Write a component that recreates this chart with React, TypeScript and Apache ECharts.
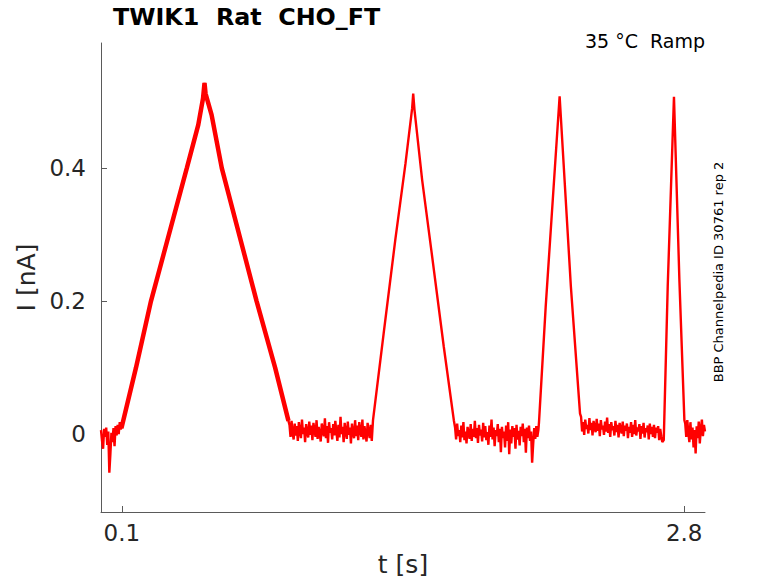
import React, { useEffect, useRef } from "react";
import * as echarts from "echarts";

// ---- data (t in s, I in nA) ----
const dt = 0.005;

// noisy baseline stretches, uniformly sampled (dt) from their start time
const base1Start = 0.0;
const base1 = [
  0.006, -0.010, -0.022, 0.008, -0.004, 0.010, -0.016, 0.004, -0.058, -0.030,
  0.002, -0.012, 0.009, -0.018, 0.012, -0.002, 0.014, 0.000, 0.018, 0.008,
];

const base2Start = 0.905;
const base2 = [
  0.014, -0.004, 0.020, 0.002, -0.008, 0.016, -0.002, 0.012, -0.010, 0.018,
  0.004, -0.006, 0.022, 0.000, 0.010, -0.012, 0.015, 0.003, -0.005, 0.019,
  -0.001, 0.013, -0.009, 0.017, 0.006, -0.004, 0.021, -0.007, 0.011, 0.001,
  -0.011, 0.016, 0.005, -0.003, 0.024, -0.006, 0.012, -0.013, 0.018, 0.002,
  0.009, -0.008, 0.015, -0.002, 0.020, 0.004, -0.010, 0.014, -0.005, 0.026,
  0.000, 0.011, -0.012, 0.017, 0.003, -0.007, 0.019, -0.001, 0.010, -0.014,
  0.016, 0.002, -0.006, 0.021, -0.003, 0.013, -0.009, 0.018, 0.005, -0.004,
  0.022, -0.008, 0.012, 0.000, -0.011, 0.017, 0.003, -0.006, 0.014, -0.010,
];

const base3Start = 1.70;
const base3 = [
  0.010, -0.008, 0.016, -0.003, 0.006, -0.012, 0.013, -0.005, 0.018, -0.009,
  0.004, -0.014, 0.011, 0.001, -0.007, 0.015, -0.010, 0.008, -0.004, 0.020,
  -0.006, 0.009, -0.013, 0.014, -0.002, 0.007, -0.011, 0.017, -0.005, 0.012,
  -0.009, 0.003, -0.016, 0.013, -0.004, 0.022, -0.008, 0.010, -0.018, 0.006,
  -0.003, 0.015, -0.012, 0.008, -0.027, 0.011, -0.006, 0.004, -0.020, 0.013,
  -0.010, 0.018, -0.030, 0.007, -0.014, 0.012, -0.004, 0.009, -0.022, 0.014,
  -0.008, 0.005, -0.017, 0.011, -0.003, 0.016, -0.012, 0.008, -0.028, 0.010,
  -0.006, 0.013, -0.010, 0.004, -0.043, -0.015, 0.009, -0.007, 0.012, -0.004,
  0.006,
];

const base4Start = 2.305;
const base4 = [
  0.026, 0.004, 0.018, -0.001, 0.022, 0.008, 0.014, 0.001, 0.024, 0.006,
  0.017, -0.002, 0.020, 0.009, 0.003, 0.023, 0.005, 0.016, -0.003, 0.021,
  0.007, 0.013, -0.001, 0.019, 0.004, 0.025, 0.002, 0.015, -0.004, 0.018,
  0.006, 0.012, -0.002, 0.020, 0.003, 0.014, -0.005, 0.017, 0.008, 0.001,
  0.019, -0.003, 0.013, 0.005, 0.016, -0.006, 0.011, 0.002, 0.018, -0.004,
  0.014, 0.000, 0.021, -0.002, 0.010, 0.004, 0.015, -0.007, 0.012, 0.001,
  0.017, -0.005, 0.009, 0.003, 0.013, -0.008, 0.016, 0.000, 0.011, -0.004,
  0.014, -0.006, 0.010, 0.002, 0.012, -0.009, 0.008, -0.003, -0.012,
];

const base5Start = 2.805;
const base5 = [
  0.016, -0.004, 0.021, 0.002, -0.012, 0.018, -0.008, 0.010, -0.020, 0.006,
  -0.029, 0.012, -0.006, 0.019, -0.014, 0.008, 0.022, -0.003, 0.014, 0.004,
];

// ramp responses: [t, I]
const ramp1: [number, number][] = [
  [0.098, 0.009], [0.168, 0.100], [0.240, 0.200], [0.412, 0.400],
  [0.467, 0.465], [0.490, 0.505], [0.497, 0.528], [0.502, 0.512], [0.531, 0.480],
  [0.580, 0.400], [0.747, 0.200], [0.836, 0.100], [0.900, 0.020],
];
const ramp2: [number, number][] = [
  [1.306, 0.021], [1.357, 0.151], [1.413, 0.292], [1.462, 0.407], [1.494, 0.490],
  [1.499, 0.512], [1.505, 0.488], [1.542, 0.382], [1.590, 0.267], [1.646, 0.131],
  [1.694, 0.021],
];
const ramp3: [number, number][] = [
  [2.103, 0.018], [2.135, 0.191], [2.202, 0.508], [2.256, 0.222], [2.300, 0.031],
];
const ramp4: [number, number][] = [
  [2.702, -0.009], [2.721, 0.222], [2.751, 0.507], [2.777, 0.232], [2.801, 0.021],
];

const xTicks = [0.1, 2.8];
const yTicks = [0, 0.2, 0.4];

const titleText = "TWIK1  Rat  CHO_FT";
const conditionText = "35 °C  Ramp";
const sourceText = "BBP Channelpedia ID 30761 rep 2";

function sampled(start: number, vals: number[]): [number, number][] {
  return vals.map((v, i) => [+(start + i * dt).toFixed(4), v]);
}

const trace: [number, number][] = [
  ...sampled(base1Start, base1),
  ...ramp1,
  ...sampled(base2Start, base2),
  ...ramp2,
  ...sampled(base3Start, base3),
  ...ramp3,
  ...sampled(base4Start, base4),
  ...ramp4,
  ...sampled(base5Start, base5),
];

const FONT = "DejaVu Sans";
const TXT = "#262626";
const AXIS = "#5a5a5a";

export default function App() {
  const ref = useRef<HTMLDivElement>(null);
  useEffect(() => {
    if (!ref.current) return;
    const chart = echarts.init(ref.current, undefined, { renderer: "svg" });
    chart.setOption({
      animation: false,
      backgroundColor: "#ffffff",
      grid: { left: 101, right: 73, top: 43, bottom: 71, containLabel: false },
      xAxis: {
        type: "value",
        min: 0,
        max: 2.9,
        axisLine: { show: true, onZero: false, lineStyle: { color: AXIS, width: 1 } },
        axisTick: { show: true, inside: true, length: 6, customValues: xTicks, lineStyle: { color: AXIS } },
        axisLabel: {
          customValues: xTicks,
          fontSize: 23,
          fontFamily: FONT,
          color: TXT,
          margin: 9,
          formatter: (v: number) => String(v),
        },
        splitLine: { show: false },
        name: "t [s]",
        nameLocation: "middle",
        nameGap: 40,
        nameTextStyle: { fontSize: 25, fontFamily: FONT, color: TXT },
      },
      yAxis: {
        type: "value",
        min: -0.117,
        max: 0.588,
        axisLine: { show: true, onZero: false, lineStyle: { color: AXIS, width: 1 } },
        axisTick: { show: true, inside: true, length: 6, customValues: yTicks, lineStyle: { color: AXIS } },
        axisLabel: {
          customValues: yTicks,
          fontSize: 23,
          fontFamily: FONT,
          color: TXT,
          margin: 15,
          formatter: (v: number) => String(v),
        },
        splitLine: { show: false },
        name: "I [nA]",
        nameLocation: "middle",
        nameGap: 58,
        nameTextStyle: { fontSize: 25, fontFamily: FONT, color: TXT },
      },
      graphic: [
        {
          type: "text",
          left: 113,
          top: 5,
          style: { text: titleText, fontFamily: FONT, fontWeight: "bold", fontSize: 23.8, fill: "#000" },
        },
        {
          type: "text",
          x: 705,
          y: 41,
          style: {
            text: conditionText,
            fontFamily: FONT,
            fontSize: 19,
            fill: "#000",
            textAlign: "right",
            textVerticalAlign: "middle",
          },
        },
        {
          type: "text",
          x: 718,
          y: 272,
          rotation: Math.PI / 2,
          style: {
            text: sourceText,
            fontFamily: FONT,
            fontSize: 13,
            fill: "#000",
            textAlign: "center",
            textVerticalAlign: "middle",
          },
        },
      ],
      series: [
        {
          name: "trace",
          type: "line",
          data: trace,
          showSymbol: false,
          sampling: undefined,
          lineStyle: { color: "#ff0000", width: 2.4 },
          z: 2,
        },
        {
          name: "ramp1",
          type: "line",
          data: ramp1,
          showSymbol: false,
          lineStyle: { color: "#ff0000", width: 4.5 },
          z: 2,
        },
      ],
    });
    return () => chart.dispose();
  }, []);
  return (
    <div
      ref={ref}
      style={{ position: "fixed", left: 0, top: 0, width: 778, height: 583, background: "#fff" }}
    />
  );
}
